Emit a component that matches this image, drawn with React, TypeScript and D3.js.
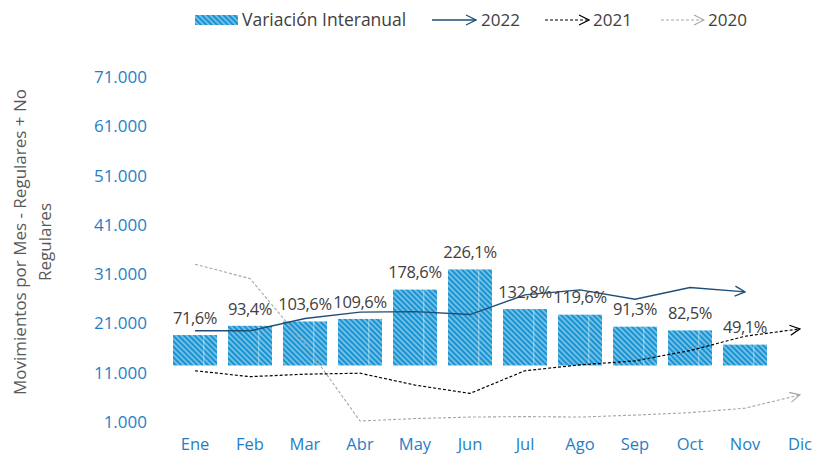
import React from 'react';
import * as d3 from 'd3';

const months = ['Ene', 'Feb', 'Mar', 'Abr', 'May', 'Jun', 'Jul', 'Ago', 'Sep', 'Oct', 'Nov', 'Dic'];
const variacion = [71.6, 93.4, 103.6, 109.6, 178.6, 226.1, 132.8, 119.6, 91.3, 82.5, 49.1];
const serie2022 = [19500, 19500, 22000, 23300, 23400, 22800, 26800, 27800, 25900, 28300, 27400];
const serie2021 = [11400, 10200, 10700, 10900, 8500, 6800, 11400, 12600, 13400, 15500, 18400, 19900];
const serie2020 = [33000, 30100, 16800, 1200, 1700, 2000, 2100, 2000, 2400, 2900, 3800, 6500];
const yTicks = [1000, 11000, 21000, 31000, 41000, 51000, 61000, 71000];

const FONT = "'Open Sans', sans-serif";
const BLUE = '#1593d3';
const TICK_BLUE = '#1f7fc6';

const es = d3.formatLocale({ decimal: ',', thousands: '.', grouping: [3], currency: ['', ''] });
const fmtInt = es.format(',');
const fmtPct = es.format(',.1f');

export default function App() {
  const W = 814;
  const H = 456;
  const y = d3.scaleLinear().domain([1000, 71000]).range([422, 77]);
  const y2 = d3.scaleLinear().domain([-133, 679]).range([422, 77]);
  const x = d3.scaleBand<string>().domain(months).range([167.5, 827.5]).paddingInner(0.2).paddingOuter(0.1);
  const bw = x.bandwidth();
  const cx = (i: number) => (x(months[i]) as number) + bw / 2;

  const line = d3
    .line<number>()
    .x((_, i) => cx(i))
    .y((d) => y(d));

  const legendY = 20;
  const fs = 17;

  return (
    <svg width={W} height={H} style={{ position: 'absolute', left: 0, top: 0, background: '#fff' }} fontFamily={FONT}>
      <defs>
        <pattern id="stripes" patternUnits="userSpaceOnUse" width="3.8" height="3.8" patternTransform="rotate(-45)">
          <rect width="3.8" height="3.8" fill={BLUE} />
          <line x1="1" y1="0" x2="1" y2="3.8" stroke="#ffffff" strokeOpacity="0.7" strokeWidth="1.1" />
        </pattern>
        <marker id="arr2022" viewBox="0 0 12 12" refX="11" refY="6" markerWidth="12" markerHeight="12" markerUnits="userSpaceOnUse" orient="auto">
          <path d="M1,1 L11,6 L1,11" fill="none" stroke="#1f4e79" strokeWidth="1.3" />
        </marker>
        <marker id="arr2021" viewBox="0 0 12 12" refX="11" refY="6" markerWidth="12" markerHeight="12" markerUnits="userSpaceOnUse" orient="auto">
          <path d="M1,1 L11,6 L1,11" fill="none" stroke="#000000" strokeWidth="1.2" />
        </marker>
        <marker id="arr2020" viewBox="0 0 12 12" refX="11" refY="6" markerWidth="12" markerHeight="12" markerUnits="userSpaceOnUse" orient="auto">
          <path d="M1,1 L11,6 L1,11" fill="none" stroke="#a6a6a6" strokeWidth="1.1" />
        </marker>
      </defs>

      {/* Legend */}
      <g>
        <rect x={195} y={legendY - 5} width={43} height={10} fill="url(#stripes)" />
        <text x={242} y={legendY} dy="0.35em" fontSize={fs + 0.5} fill="#404040">Variación Interanual</text>
        <line x1={432} y1={legendY} x2={476} y2={legendY} stroke="#1f4e79" strokeWidth={1.3} markerEnd="url(#arr2022)" />
        <text x={481} y={legendY} dy="0.35em" fontSize={fs} fill="#404040">2022</text>
        <line x1={545} y1={legendY} x2={589} y2={legendY} stroke="#000" strokeWidth={1.2} strokeDasharray="3,2" markerEnd="url(#arr2021)" />
        <text x={593} y={legendY} dy="0.35em" fontSize={fs} fill="#404040">2021</text>
        <line x1={661} y1={legendY} x2={704} y2={legendY} stroke="#a6a6a6" strokeWidth={1.1} strokeDasharray="3,2" markerEnd="url(#arr2020)" />
        <text x={708} y={legendY} dy="0.35em" fontSize={fs} fill="#404040">2020</text>
      </g>

      {/* Y axis labels */}
      {yTicks.map((t) => (
        <text key={t} x={147} y={y(t)} dy="0.35em" textAnchor="end" fontSize={fs} fill={TICK_BLUE}>
          {fmtInt(t)}
        </text>
      ))}

      {/* Axis title */}
      <g transform="translate(20,242) rotate(-90)">
        <text x={0} y={0} dy="0.35em" textAnchor="middle" fontSize={fs} fill="#595959">
          Movimientos por Mes -  Regulares + No
        </text>
        <text x={0} y={25} dy="0.35em" textAnchor="middle" fontSize={fs} fill="#595959">
          Regulares
        </text>
      </g>

      {/* X axis labels */}
      {months.map((m, i) => (
        <text key={m} x={cx(i)} y={444} dy="0.35em" textAnchor="middle" fontSize={16.5} fill={TICK_BLUE}>
          {m}
        </text>
      ))}

      {/* Bars */}
      {variacion.map((v, i) => {
        const x0 = x(months[i]) as number;
        const top = y2(v);
        const bottom = y2(0);
        return (
          <g key={i}>
            <rect x={x0} y={top} width={bw} height={bottom - top} fill="url(#stripes)" />
            <line x1={x0 + bw * 0.7} x2={x0 + bw * 0.7} y1={top} y2={bottom} stroke="#ffffff" strokeOpacity={0.5} strokeWidth={1} />
          </g>
        );
      })}

      {/* Lines */}
      <path d={line(serie2020) || ''} fill="none" stroke="#a6a6a6" strokeWidth={1.1} strokeDasharray="3,2" markerEnd="url(#arr2020)" />
      <path d={line(serie2021) || ''} fill="none" stroke="#000" strokeWidth={1.2} strokeDasharray="3,2" markerEnd="url(#arr2021)" />
      <path d={line(serie2022) || ''} fill="none" stroke="#1f4e79" strokeWidth={1.4} markerEnd="url(#arr2022)" />

      {/* Bar labels */}
      {variacion.map((v, i) => (
        <text key={i} x={cx(i)} y={y2(v) - 17} dy="0.35em" textAnchor="middle" fontSize={16.5} letterSpacing={-0.4} fill="#404040">
          {fmtPct(v)}%
        </text>
      ))}
    </svg>
  );
}
